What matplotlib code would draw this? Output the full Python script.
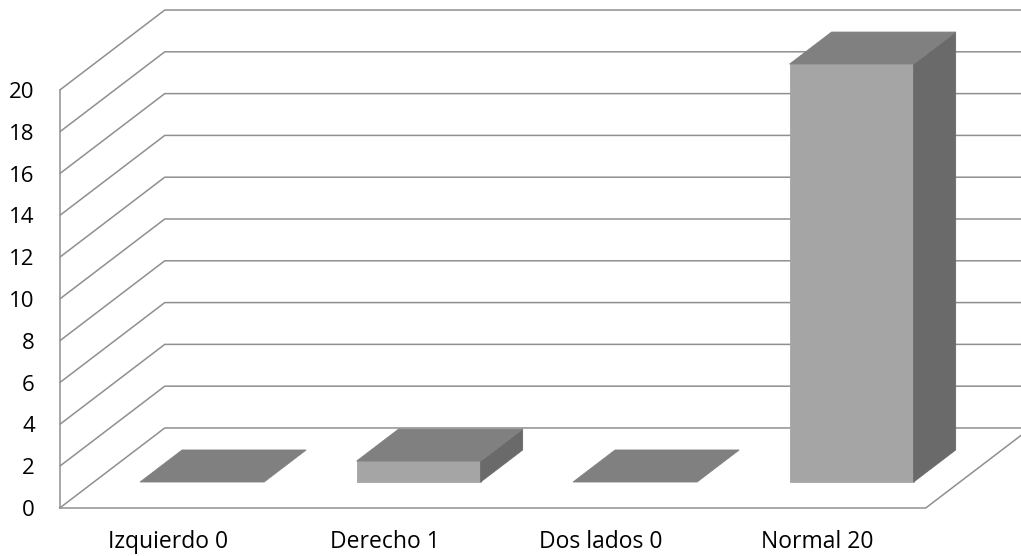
import numpy as np
import matplotlib.pyplot as plt

categories = ['Izquierdo', 'Derecho', 'Dos lados', 'Normal']
values = [0, 1, 0, 20]
yticks = np.arange(0, 21, 2)

# oblique 3D look: moving back in depth shifts right (category units) and up (value units)
DX, DY = 0.485, 3.83
BAR_W = 0.573
Z0, Z1 = 0.325, 0.725          # bars sit in the middle of the floor depth
X_LEFT, X_RIGHT = -0.5, 3.5

GRID = '#8f8f8f'
TOP, FRONT, SIDE = '#808080', '#a5a5a5', '#6a6a6a'

plt.rcParams['font.family'] = ['Open Sans', 'DejaVu Sans']


def proj(x, y, z):
    return x + z * DX, y + z * DY


def face(pts, color):
    xs, ys = zip(*[proj(*p) for p in pts])
    ax.fill(xs, ys, color=color, lw=0.6, ec=color, zorder=3)


fig = plt.figure(figsize=(10.21, 5.56), dpi=100)
ax = fig.add_axes([0, 0, 1, 1])
ax.set_xlim(-0.776, 3.94)
ax.set_ylim(-2.297, 24.31)
ax.axis('off')

# side wall diagonals + back wall gridlines
for t in yticks:
    p0 = proj(X_LEFT, t, 0)
    p1 = proj(X_LEFT, t, 1)
    ax.plot([p0[0], p1[0], 5], [p0[1], p1[1], p1[1]], color=GRID, lw=1.1,
            solid_capstyle='butt', zorder=1)
    ax.text(X_LEFT - 0.115, t, str(t), ha='right', va='center_baseline',
            fontsize=16)

# front vertical axis and floor edges
ax.plot([X_LEFT, X_LEFT], [0, yticks[-1]], color=GRID, lw=1.1, zorder=1)
fr = proj(X_RIGHT, 0, 1)
ax.plot([X_LEFT, X_RIGHT, fr[0]], [0, 0, fr[1]], color=GRID, lw=1.1, zorder=1)

for i, (cat, v) in enumerate(zip(categories, values)):
    x0, x1 = i - BAR_W / 2, i + BAR_W / 2
    if v > 0:
        face([(x0, 0, Z0), (x1, 0, Z0), (x1, v, Z0), (x0, v, Z0)], FRONT)
        face([(x1, 0, Z0), (x1, 0, Z1), (x1, v, Z1), (x1, v, Z0)], SIDE)
    face([(x0, v, Z0), (x1, v, Z0), (x1, v, Z1), (x0, v, Z1)], TOP)
    ax.text(i, -1.92, f'{cat} {v}', ha='center', va='baseline', fontsize=16.5)

fig.savefig('out.png', dpi=100)
